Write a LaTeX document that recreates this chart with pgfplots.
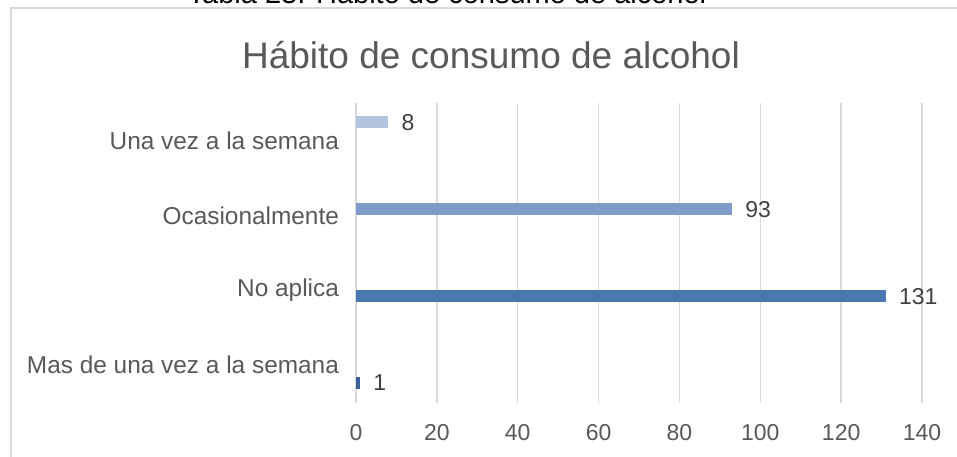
\documentclass[border=0pt]{standalone}
\usepackage{fontspec}
\setmainfont{Liberation Sans}
\usepackage{pgfplots}
\pgfplotsset{compat=1.18}
\definecolor{txt}{HTML}{595959}
\definecolor{lbl}{HTML}{404040}
\definecolor{gridc}{HTML}{D9D9D9}
\definecolor{cMas}{HTML}{3A6399}
\definecolor{cNo}{HTML}{4A77B0}
\definecolor{cOca}{HTML}{7F9BC8}
\definecolor{cUna}{HTML}{B4C3DF}
\begin{document}
\begin{tikzpicture}
% 1 px of the reference = 0.5pt
\useasboundingbox (0,0) rectangle (478.5pt,-228pt);
\clip (0,0) rectangle (478.5pt,-228pt);
\fill[white] (0,0) rectangle (478.5pt,-228pt);
\draw[gridc, line width=1pt] (5.5pt,-4pt) rectangle (490pt,-240pt);
% caption above the chart, cut off by the crop as in the reference
\node[anchor=base, font=\fontsize{14.5}{16}\selectfont, text=black, inner sep=0pt] at (223.5pt,-1.5pt) {Tabla 23: Hábito de consumo de alcohol};
\node[font=\fontsize{18.5}{22}\selectfont, text=txt] at (245.5pt,-27.5pt) {Hábito de consumo de alcohol};
\begin{axis}[
    at={(178pt,-201.25pt)}, anchor=south west,
    scale only axis,
    width=283pt, height=149.75pt,
    xmin=0, xmax=140,
    ymin=-0.5, ymax=3.5,
    xtick={0,20,...,140},
    ytick={0,1,2,3},
    yticklabels={Mas de una vez a la semana, No aplica, Ocasionalmente, Una vez a la semana},
    major tick length=0pt,
    axis line style={draw=none},
    xmajorgrids,
    major grid style={gridc, line width=0.75pt},
    tick label style={text=txt, font=\fontsize{11.5}{13}\selectfont},
    yticklabel style={font=\fontsize{12.2}{14}\selectfont, xshift=-5pt},
    xticklabel style={yshift=-7.5pt},
    /pgf/number format/assume math mode=true,
    xbar, bar width=6pt,
    nodes near coords,
    every node near coord/.append style={anchor=west, inner sep=0pt, xshift=6.5pt,
        text=lbl, font=\fontsize{11.5}{13}\selectfont},
]
\addplot[draw=none, fill=cMas, bar shift=-9pt] coordinates {(1,0)};
\addplot[draw=none, fill=cNo, bar shift=-3pt] coordinates {(131,1)};
\addplot[draw=none, fill=cOca, bar shift=3pt] coordinates {(93,2)};
\addplot[draw=none, fill=cUna, bar shift=9pt] coordinates {(8,3)};
\end{axis}
\end{tikzpicture}
\end{document}
